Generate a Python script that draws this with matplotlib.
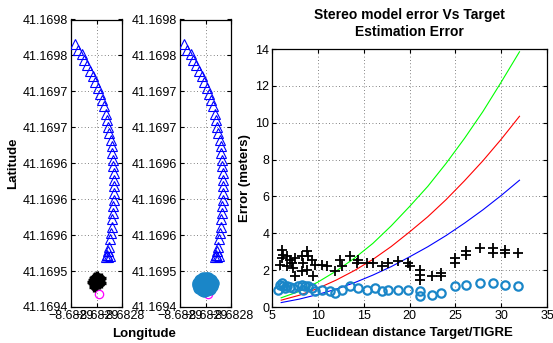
import matplotlib
matplotlib.use("Agg")
import matplotlib.pyplot as plt  # noqa: E402

# --- left panels: GPS track (lon/lat) ---
track_lon = [-8.682892, -8.682886, -8.682879, -8.682874, -8.682868, -8.682863,
             -8.682857, -8.682852, -8.682848, -8.682843, -8.682839, -8.682835,
             -8.682831, -8.682829, -8.682827, -8.682825, -8.682822, -8.682820,
             -8.682819, -8.682818, -8.682817, -8.682816, -8.682816, -8.682816,
             -8.682816, -8.682816, -8.682817, -8.682818, -8.682819, -8.682820,
             -8.682822, -8.682823, -8.682825, -8.682827, -8.682829, -8.682831,
             -8.682827, -8.682823]
track_lat = [41.169766, 41.169758, 41.169752, 41.169744, 41.169736, 41.169729,
             41.169721, 41.169713, 41.169705, 41.169697, 41.169688, 41.169679,
             41.169669, 41.169660, 41.169651, 41.169642, 41.169633, 41.169624,
             41.169614, 41.169605, 41.169596, 41.169587, 41.169577, 41.169568,
             41.169559, 41.169549, 41.169540, 41.169531, 41.169522, 41.169512,
             41.169503, 41.169494, 41.169484, 41.169478, 41.169473, 41.169470,
             41.169470, 41.169471]

stereo_lon = [-8.682856, -8.682854, -8.682852, -8.682850, -8.682848, -8.682846,
              -8.682843, -8.682845, -8.682847, -8.682849, -8.682851, -8.682853,
              -8.682855, -8.682857, -8.682854, -8.682852, -8.682850, -8.682848,
              -8.682850, -8.682852, -8.682846, -8.682858, -8.682842, -8.682849,
              -8.682853, -8.682855, -8.682841]
stereo_lat = [41.169438, 41.169441, 41.169442, 41.169443, 41.169441, 41.169439,
              41.169437, 41.169435, 41.169434, 41.169432, 41.169430, 41.169430,
              41.169432, 41.169434, 41.169436, 41.169437, 41.169438, 41.169436,
              41.169434, 41.169433, 41.169432, 41.169435, 41.169440, 41.169440,
              41.169440, 41.169428, 41.169434]

fused_lon = [-8.682864, -8.682860, -8.682855, -8.682850, -8.682845, -8.682840,
             -8.682836, -8.682838, -8.682842, -8.682847, -8.682852, -8.682857,
             -8.682862, -8.682865, -8.682858, -8.682852, -8.682846, -8.682840,
             -8.682850, -8.682855]
fused_lat = [41.169434, 41.169438, 41.169440, 41.169440, 41.169440, 41.169438,
             41.169434, 41.169429, 41.169425, 41.169423, 41.169422, 41.169424,
             41.169427, 41.169430, 41.169432, 41.169434, 41.169433, 41.169430,
             41.169428, 41.169428]

target_lon = [-8.682846]
target_lat = [41.169418]

lat_ticks = [41.16940, 41.16945, 41.16950, 41.16955, 41.16960,
             41.16965, 41.16970, 41.16975, 41.16980]
lat_labels = ["41.1694", "41.1695", "41.1696", "41.1696", "41.1696",
              "41.1697", "41.1697", "41.1698", "41.1698"]
lon_ticks = [-8.68290, -8.68285, -8.68280]
lon_labels = ["\u22128.6829", "\u22128.6829", "\u22128.6828"]

# --- right panel: error vs distance ---
model_dist = [6, 8, 10, 12, 14, 16, 18, 20, 22, 24, 26, 28, 30, 32]
model_green = [0.50, 0.85, 1.35, 1.95, 2.65, 3.45, 4.40, 5.45, 6.55, 7.80,
               9.15, 10.6, 12.2, 13.85]
model_red = [0.37, 0.64, 1.01, 1.46, 1.98, 2.58, 3.28, 4.07, 4.90, 5.83,
             6.85, 7.93, 9.10, 10.35]
model_blue = [0.24, 0.43, 0.68, 0.97, 1.32, 1.73, 2.19, 2.72, 3.27, 3.88,
              4.55, 5.27, 6.05, 6.88]

stereo_dist = [5.87, 6.05, 6.05, 6.24, 6.60, 6.60, 6.96, 7.14, 7.51, 7.32,
               7.51, 8.23, 8.41, 8.23, 8.78, 8.96, 8.78, 9.32, 9.69, 9.50,
               10.41, 10.96, 11.87, 12.41, 12.59, 13.50, 14.41, 14.23, 15.32,
               16.04, 16.95, 17.68, 18.77, 19.86, 20.04, 21.13, 21.13, 21.13,
               22.40, 23.49, 23.49, 24.94, 24.94, 26.21, 26.21, 27.67, 29.12,
               29.12, 30.39, 30.39, 31.84]
stereo_err = [2.30, 2.66, 3.11, 2.84, 2.75, 2.21, 2.57, 2.39, 2.66, 2.12,
              1.66, 2.75, 2.39, 1.93, 3.02, 2.75, 2.03, 2.57, 2.30, 1.66,
              2.30, 2.21, 1.93, 2.57, 2.21, 2.75, 2.57, 2.39, 2.39,
              2.39, 2.21, 2.39, 2.48, 2.39, 2.21, 2.03, 1.75, 1.48,
              1.66, 1.84, 1.66, 2.66, 2.39, 3.02, 2.84, 3.20, 3.20,
              2.93, 3.11, 2.93, 2.93]

fused_dist = [5.69, 5.87, 6.05, 6.24, 6.42, 6.60, 6.96, 7.32, 7.87, 8.23,
              8.60, 8.41, 8.96, 9.32, 9.69, 10.41, 11.32, 11.87, 12.59, 13.50,
              14.41, 15.32, 16.22, 17.00, 17.68, 18.77, 19.86, 21.13, 21.13,
              22.40, 23.49, 24.94, 26.21, 27.67, 29.12, 30.39, 31.84]
fused_err = [0.94, 1.21, 1.30, 1.12, 1.03, 1.16, 1.08, 1.03, 1.12, 1.21,
             1.12, 0.94, 1.12, 1.03, 0.85, 0.94, 0.85, 0.76, 0.94, 1.12,
             1.03, 0.94, 1.03, 0.85, 0.94, 0.94, 0.94, 0.85, 0.58,
             0.67, 0.76, 1.12, 1.21, 1.30, 1.30, 1.21, 1.12]

plt.rcParams["font.family"] = ["Liberation Sans", "DejaVu Sans"]
plt.rcParams["font.size"] = 9

W, H = 553, 343
fig = plt.figure(figsize=(W / 100, H / 100), dpi=100)

ax1 = fig.add_axes([71 / W, 36 / H, 51 / W, 287.5 / H])
ax2 = fig.add_axes([180 / W, 36 / H, 51 / W, 287.5 / H])
ax3 = fig.add_axes([272 / W, 36 / H, 275 / W, 258 / H])

fused_color = "#1a86c8"
grid_kw = dict(color="0.35", linestyle=(0, (1, 3)), linewidth=0.6)

for ax in (ax1, ax2):
    ax.plot(target_lon, target_lat, "o", color="magenta", mfc="none",
            ms=6, mew=0.9, zorder=2)
    ax.plot(track_lon, track_lat, "^", color="blue", mfc="none",
            ms=6.5, mew=0.8, zorder=3)
    ax.set_xlim(-8.68290, -8.68280)
    ax.set_ylim(41.16940, 41.16980)
    ax.set_yticks(lat_ticks)
    ax.set_yticklabels(lat_labels)
    ax.set_xticks(lon_ticks)
    ax.set_xticklabels(lon_labels)

# stereo fixes: dense black crosses that merge into a blob
ax1.plot(stereo_lon, stereo_lat, "+", color="black", ms=7, mew=2.4, zorder=4)
ax1.plot(stereo_lon, stereo_lat, "o", color="black", ms=4.5, zorder=4)
ax2.plot(fused_lon, fused_lat, "o", color=fused_color, ms=8, zorder=4)
ax1.set_ylabel("Latitude", fontweight="bold", fontsize=9.5, labelpad=3)
fig.text(144 / W, 3 / H, "Longitude", ha="center", va="bottom",
         fontweight="bold", fontsize=9.5)

ax3.plot(model_dist, model_green, color="#00ff00", lw=0.8)
ax3.plot(model_dist, model_red, color="#ff0000", lw=0.8)
ax3.plot(model_dist, model_blue, color="#0000ff", lw=0.8)
ax3.plot(stereo_dist, stereo_err, "+", color="black", ms=6.5, mew=1.3)
ax3.plot(fused_dist, fused_err, "o", color=fused_color, mfc="none",
         ms=6, mew=1.6)
ax3.set_xlim(5, 35)
ax3.set_ylim(0, 14)
ax3.set_xticks(range(5, 36, 5))
ax3.set_yticks(range(0, 15, 2))
ax3.set_xlabel("Euclidean distance Target/TIGRE", fontweight="bold",
               fontsize=9.5, labelpad=4)
ax3.set_ylabel("Error (meters)", fontweight="bold", fontsize=9.5, labelpad=3)
ax3.set_title("Stereo model error Vs Target\nEstimation Error",
              fontweight="bold", fontsize=10, pad=9, linespacing=1.35)

for ax in (ax1, ax2, ax3):
    ax.grid(True, **grid_kw)
    ax.tick_params(direction="in", length=3, width=0.8, top=True, right=True,
                   labelsize=9, pad=2)
    for sp in ax.spines.values():
        sp.set_linewidth(0.9)

fig.savefig("out.png", dpi=100)
